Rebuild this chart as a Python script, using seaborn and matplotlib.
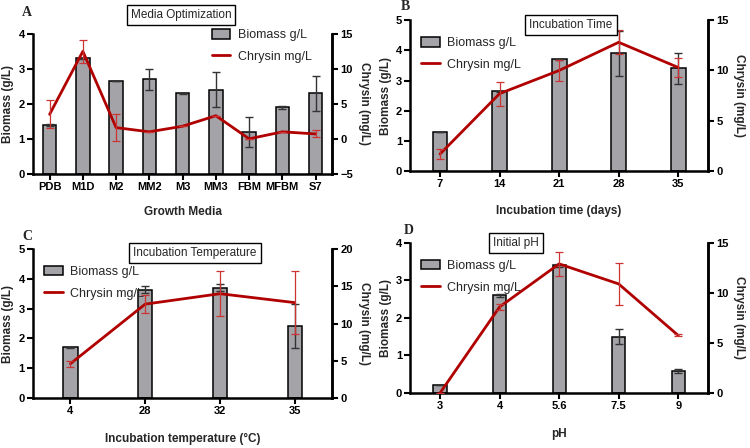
import numpy as np
import pandas as pd
import matplotlib
matplotlib.use('Agg')
import matplotlib.pyplot as plt
import seaborn as sns

# ---- data ----
media = ['PDB', 'M1D', 'M2', 'MM2', 'M3', 'MM3', 'FBM', 'MFBM', 'S7']
media_biomass = [1.40, 3.30, 2.65, 2.70, 2.30, 2.40, 1.20, 1.90, 2.30]
media_biomass_err = [0.03, 0.02, 0.01, 0.30, 0.01, 0.50, 0.43, 0.05, 0.50]
media_chrysin = [3.5, 12.5, 1.6, 1.0, 1.8, 3.3, 0.0, 1.0, 0.7]
media_chrysin_err = [2.0, 1.6, 1.9, 0.0, 0.0, 0.0, 0.0, 0.0, 0.5]

days = ['7', '14', '21', '28', '35']
days_biomass = [1.30, 2.65, 3.70, 3.90, 3.40]
days_biomass_err = [0.01, 0.02, 0.01, 0.75, 0.50]
days_chrysin = [1.7, 7.7, 10.0, 12.8, 10.3]
days_chrysin_err = [0.5, 1.2, 1.0, 1.2, 0.95]

temps = ['4', '28', '32', '35']
temps_biomass = [1.70, 3.63, 3.70, 2.43]
temps_biomass_err = [0.01, 0.12, 0.12, 0.74]
temps_chrysin = [4.6, 12.6, 14.0, 12.8]
temps_chrysin_err = [0.4, 1.2, 3.0, 4.2]

ph = ['3', '4', '5.6', '7.5', '9']
ph_biomass = [0.20, 2.60, 3.40, 1.50, 0.58]
ph_biomass_err = [0.0, 0.03, 0.05, 0.20, 0.05]
ph_chrysin = [0.0, 8.6, 12.9, 10.9, 5.75]
ph_chrysin_err = [0.0, 0.3, 1.2, 2.1, 0.1]

sns.set_theme(style='ticks')
plt.rcParams['font.family'] = ['Liberation Sans', 'DejaVu Sans']

bar_color = '#a3a3a8'
line_color = '#b00000'
err_red = '#cc3333'

fig = plt.figure(figsize=(7.5, 4.48), dpi=100)


def panel(rect, cats, bio, bio_err, chry, chry_err, width, ylim1, yticks1,
          ylim2, yticks2, xlabel, leg_anchor, xpad):
    ax = fig.add_axes(rect)
    df = pd.DataFrame({'cat': cats, 'bio': bio})
    sns.barplot(data=df, x='cat', y='bio', ax=ax, color=bar_color,
                edgecolor='black', linewidth=1.1, width=width, saturation=1)
    x = np.arange(len(cats))
    ax.errorbar(x, bio, yerr=bio_err, fmt='none', ecolor='#333333',
                elinewidth=1.0, capsize=3, capthick=1.0, zorder=3)
    ax.set_xlim(-0.5, len(cats) - 0.5)
    ax.set_ylim(*ylim1)
    ax.set_yticks(yticks1)
    ax.set_ylabel('Biomass (g/L)', fontsize=8.5, fontweight='bold', labelpad=3)
    ax.set_xlabel(xlabel, fontsize=8.5, fontweight='bold', labelpad=xpad)

    ax2 = ax.twinx()
    ln, = ax2.plot(x, chry, color=line_color, lw=2.0, zorder=4)
    ax2.errorbar(x, chry, yerr=chry_err, fmt='none', ecolor=err_red,
                 elinewidth=0.9, capsize=3, capthick=0.9, zorder=5)
    ax2.set_ylim(*ylim2)
    ax2.set_yticks(yticks2)
    ax2.set_ylabel('Chrysin (mg/L)', fontsize=8.5, fontweight='bold',
                   rotation=270, labelpad=12)

    for a in (ax, ax2):
        a.spines['top'].set_visible(False)
        for s in ('left', 'right', 'bottom'):
            a.spines[s].set_linewidth(1.8)
            a.spines[s].set_color('black')
        a.tick_params(axis='both', width=1.5, length=4, labelsize=8,
                      colors='black', pad=2)
        for lab in a.get_xticklabels() + a.get_yticklabels():
            lab.set_fontweight('bold')
    ax2.spines['left'].set_visible(False)
    ax2.spines['bottom'].set_visible(False)

    handles = [ax.patches[0], ln]
    ax2.legend(handles, ['Biomass g/L', 'Chrysin mg/L'], loc='upper left',
               bbox_to_anchor=leg_anchor, frameon=False, fontsize=9,
               handlelength=1.5, handleheight=0.8, labelspacing=0.75,
               borderaxespad=0, handletextpad=0.6)
    return ax


panel([0.044, 0.612, 0.399, 0.3125], media, media_biomass, media_biomass_err,
      media_chrysin, media_chrysin_err, 0.4, (0, 4), [0, 1, 2, 3, 4],
      (-5, 15), [-5, 0, 5, 10, 15], 'Growth Media', (0.58, 1.07), 10)
panel([0.547, 0.618, 0.397, 0.337], days, days_biomass, days_biomass_err,
      days_chrysin, days_chrysin_err, 0.25, (0, 5), [0, 1, 2, 3, 4, 5],
      (0, 15), [0, 5, 10, 15], 'Incubation time (days)', (0.02, 0.92), 11)
panel([0.044, 0.1116, 0.399, 0.3326], temps, temps_biomass, temps_biomass_err,
      temps_chrysin, temps_chrysin_err, 0.19, (0, 5), [0, 1, 2, 3, 4, 5],
      (0, 20), [0, 5, 10, 15, 20], 'Incubation temperature (°C)', (0.02, 0.92), 12)
panel([0.547, 0.1228, 0.397, 0.335], ph, ph_biomass, ph_biomass_err,
      ph_chrysin, ph_chrysin_err, 0.22, (0, 4), [0, 1, 2, 3, 4],
      (0, 15), [0, 5, 10, 15], 'pH', (0.02, 0.92), 12)

# panel letters
for lx, ly, t in [(27, 13, 'A'), (405, 7, 'B'), (27, 236, 'C'), (409, 230, 'D')]:
    fig.text(lx / 750, 1 - ly / 448, t, family=['Liberation Serif', 'DejaVu Serif'],
             fontweight='bold', fontsize=10, ha='center', va='center')

# boxed titles
box = dict(boxstyle='square,pad=0.35', fc='white', ec='black', lw=1.0)
for tx, ty, t in [(181, 15, 'Media Optimization'), (571, 25, 'Incubation Time'),
                  (195, 253, 'Incubation Temperature'), (516, 243, 'Initial pH')]:
    fig.text(tx / 750, 1 - ty / 448, t, fontsize=8.5, ha='center', va='center', bbox=box)

fig.savefig('out.png', dpi=100)
